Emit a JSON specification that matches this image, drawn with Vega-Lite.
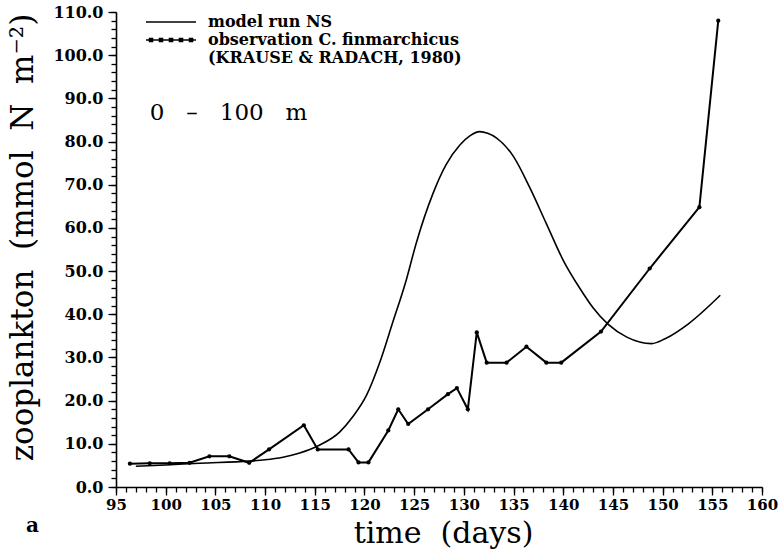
{
  "$schema": "https://vega.github.io/schema/vega-lite/v6.json",
  "width": 646,
  "height": 475,
  "autosize": {"type": "none"},
  "padding": {"left": 116, "top": 12, "right": 17, "bottom": 64},
  "background": "white",
  "config": {
    "view": {"stroke": null},
    "axis": {"grid": false, "domainColor": "black", "tickColor": "black", "labelColor": "black", "titleColor": "black", "domainWidth": 1.6, "tickWidth": 1.3}
  },
  "title": {"text": "a", "orient": "bottom", "anchor": "start", "frame": "group", "dx": -90, "dy": -32, "offset": 0, "font": "DejaVu Serif", "fontWeight": "bold", "fontSize": 20, "color": "black"},
  "data": {
    "values": [
      {"series": "model run NS", "day": 97.0, "value": 4.8},
      {"series": "model run NS", "day": 100.0, "value": 5.1},
      {"series": "model run NS", "day": 103.4, "value": 5.5},
      {"series": "model run NS", "day": 108.4, "value": 6.0},
      {"series": "model run NS", "day": 110.0, "value": 6.3},
      {"series": "model run NS", "day": 111.8, "value": 6.9},
      {"series": "model run NS", "day": 113.4, "value": 7.8},
      {"series": "model run NS", "day": 115.4, "value": 9.6},
      {"series": "model run NS", "day": 117.5, "value": 12.7},
      {"series": "model run NS", "day": 118.8, "value": 16.2},
      {"series": "model run NS", "day": 120.2, "value": 21.2},
      {"series": "model run NS", "day": 121.5, "value": 28.6},
      {"series": "model run NS", "day": 122.8, "value": 37.8},
      {"series": "model run NS", "day": 124.2, "value": 47.9},
      {"series": "model run NS", "day": 125.2, "value": 56.4},
      {"series": "model run NS", "day": 126.9, "value": 68.0},
      {"series": "model run NS", "day": 128.2, "value": 74.6},
      {"series": "model run NS", "day": 129.6, "value": 79.2},
      {"series": "model run NS", "day": 130.6, "value": 81.3},
      {"series": "model run NS", "day": 131.6, "value": 82.3},
      {"series": "model run NS", "day": 132.4, "value": 81.9},
      {"series": "model run NS", "day": 133.3, "value": 80.8},
      {"series": "model run NS", "day": 135.0, "value": 76.5},
      {"series": "model run NS", "day": 136.6, "value": 69.5},
      {"series": "model run NS", "day": 138.3, "value": 61.0},
      {"series": "model run NS", "day": 140.0, "value": 52.5},
      {"series": "model run NS", "day": 141.7, "value": 45.9},
      {"series": "model run NS", "day": 143.0, "value": 41.5},
      {"series": "model run NS", "day": 144.5, "value": 37.7},
      {"series": "model run NS", "day": 146.4, "value": 34.7},
      {"series": "model run NS", "day": 148.9, "value": 33.2},
      {"series": "model run NS", "day": 150.3, "value": 34.4},
      {"series": "model run NS", "day": 152.6, "value": 37.8},
      {"series": "model run NS", "day": 155.8, "value": 44.4},
      {"series": "observation C. finmarchicus", "day": 96.4, "value": 5.4},
      {"series": "observation C. finmarchicus", "day": 98.4, "value": 5.5},
      {"series": "observation C. finmarchicus", "day": 100.4, "value": 5.5},
      {"series": "observation C. finmarchicus", "day": 102.4, "value": 5.6},
      {"series": "observation C. finmarchicus", "day": 104.4, "value": 7.1},
      {"series": "observation C. finmarchicus", "day": 106.4, "value": 7.1},
      {"series": "observation C. finmarchicus", "day": 108.4, "value": 5.6},
      {"series": "observation C. finmarchicus", "day": 110.4, "value": 8.7},
      {"series": "observation C. finmarchicus", "day": 113.9, "value": 14.3},
      {"series": "observation C. finmarchicus", "day": 115.3, "value": 8.7},
      {"series": "observation C. finmarchicus", "day": 118.4, "value": 8.7},
      {"series": "observation C. finmarchicus", "day": 119.4, "value": 5.7},
      {"series": "observation C. finmarchicus", "day": 120.4, "value": 5.7},
      {"series": "observation C. finmarchicus", "day": 122.4, "value": 13.1},
      {"series": "observation C. finmarchicus", "day": 123.4, "value": 18.0},
      {"series": "observation C. finmarchicus", "day": 124.4, "value": 14.6},
      {"series": "observation C. finmarchicus", "day": 126.4, "value": 18.0},
      {"series": "observation C. finmarchicus", "day": 128.4, "value": 21.5},
      {"series": "observation C. finmarchicus", "day": 129.3, "value": 22.9},
      {"series": "observation C. finmarchicus", "day": 130.4, "value": 18.0},
      {"series": "observation C. finmarchicus", "day": 131.3, "value": 35.8},
      {"series": "observation C. finmarchicus", "day": 132.3, "value": 28.8},
      {"series": "observation C. finmarchicus", "day": 134.3, "value": 28.8},
      {"series": "observation C. finmarchicus", "day": 136.3, "value": 32.5},
      {"series": "observation C. finmarchicus", "day": 138.3, "value": 28.8},
      {"series": "observation C. finmarchicus", "day": 139.8, "value": 28.8},
      {"series": "observation C. finmarchicus", "day": 143.8, "value": 36.0},
      {"series": "observation C. finmarchicus", "day": 148.7, "value": 50.6},
      {"series": "observation C. finmarchicus", "day": 153.7, "value": 64.8},
      {"series": "observation C. finmarchicus", "day": 155.6, "value": 108.0}
    ]
  },
  "layer": [
    {
      "transform": [{"filter": "datum.series == 'model run NS'"}],
      "mark": {"type": "line", "interpolate": "monotone", "strokeWidth": 1.6},
      "encoding": {
        "x": {
          "field": "day", "type": "quantitative",
          "scale": {"domain": [95, 160], "nice": false, "zero": false},
          "axis": {
            "orient": "bottom",
            "values": [95, 100, 105, 110, 115, 120, 125, 130, 135, 140, 145, 150, 155, 160],
            "format": "d", "tickSize": 8, "labelPadding": 2, "labelFlush": false,
            "labelFont": "DejaVu Serif", "labelFontWeight": "bold", "labelFontSize": 15,
            "title": "time\u00a0\u00a0(days)", "titleFont": "DejaVu Serif", "titleFontWeight": "normal", "titleFontSize": 30,
            "titleX": 327, "titleY": 55, "titleBaseline": "alphabetic", "titleAlign": "center"
          }
        },
        "y": {
          "field": "value", "type": "quantitative",
          "scale": {"domain": [0, 110], "nice": false},
          "axis": {
            "orient": "left",
            "values": [0, 10, 20, 30, 40, 50, 60, 70, 80, 90, 100, 110],
            "format": ".1f", "tickSize": 8, "labelPadding": 5, "labelFlush": false,
            "labelFont": "DejaVu Serif", "labelFontWeight": "bold", "labelFontSize": 16,
            "title": "zooplankton\u00a0\u00a0(mmol\u00a0\u00a0N\u00a0\u00a0m⁻²)", "titleFont": "DejaVu Serif", "titleFontWeight": "normal", "titleFontSize": 31,
            "titleX": -84, "titleY": 225, "titleAngle": 270, "titleBaseline": "alphabetic", "titleAlign": "center"
          }
        },
        "color": {
          "field": "series", "type": "nominal",
          "scale": {"domain": ["model run NS", "observation C. finmarchicus"], "range": ["black", "black"]},
          "legend": {
            "orient": "none", "legendX": 47, "legendY": 2, "title": null, "direction": "vertical",
            "padding": 0, "rowPadding": 2, "labelOffset": 29, "labelLimit": 500,
            "labelFont": "DejaVu Serif", "labelFontWeight": "bold", "labelFontSize": 16, "labelColor": "black",
            "symbolSize": 100, "symbolStrokeWidth": 1.6, "symbolStrokeColor": "black",
            "labelExpr": "datum.label == 'observation C. finmarchicus' ? ['observation C. finmarchicus', '(KRAUSE & RADACH, 1980)'] : datum.label",
            "encode": {
              "symbols": {
                "update": {
                  "shape": {"signal": "datum.value == 'model run NS' ? 'M-5,0H5' : 'M-5,0H5M-4.3,-0.3h0.6v0.6h-0.6zM-2.3,-0.3h0.6v0.6h-0.6zM-0.3,-0.3h0.6v0.6h-0.6zM1.7,-0.3h0.6v0.6h-0.6zM3.7,-0.3h0.6v0.6h-0.6z'"},
                  "fill": {"value": "black"}
                }
              }
            }
          }
        }
      }
    },
    {
      "transform": [{"filter": "datum.series == 'observation C. finmarchicus'"}],
      "mark": {"type": "line", "interpolate": "linear", "strokeWidth": 2},
      "encoding": {
        "x": {"field": "day", "type": "quantitative", "axis": null},
        "y": {"field": "value", "type": "quantitative", "axis": null},
        "color": {"field": "series", "type": "nominal"}
      }
    },
    {
      "transform": [{"filter": "datum.series == 'observation C. finmarchicus'"}],
      "mark": {"type": "point", "filled": true, "shape": "circle", "size": 18, "color": "black", "opacity": 1},
      "encoding": {
        "x": {
          "field": "day", "type": "quantitative",
          "axis": {
            "orient": "bottom", "domain": false, "labels": false, "title": null, "tickSize": 5,
            "values": [95,96,97,98,99,100,101,102,103,104,105,106,107,108,109,110,111,112,113,114,115,116,117,118,119,120,121,122,123,124,125,126,127,128,129,130,131,132,133,134,135,136,137,138,139,140,141,142,143,144,145,146,147,148,149,150,151,152,153,154,155,156,157,158,159,160]
          }
        },
        "y": {
          "field": "value", "type": "quantitative",
          "axis": {
            "orient": "left", "domain": false, "labels": false, "title": null, "tickSize": 5,
            "values": [0,2,4,6,8,10,12,14,16,18,20,22,24,26,28,30,32,34,36,38,40,42,44,46,48,50,52,54,56,58,60,62,64,66,68,70,72,74,76,78,80,82,84,86,88,90,92,94,96,98,100,102,104,106,108,110]
          }
        }
      }
    },
    {
      "data": {"values": [{"label": "0\u00a0\u00a0\u00a0–\u00a0\u00a0\u00a0100\u00a0\u00a0\u00a0m"}]},
      "mark": {"type": "text", "align": "left", "baseline": "middle", "font": "DejaVu Serif", "fontSize": 23, "color": "black"},
      "encoding": {
        "text": {"field": "label", "type": "nominal"},
        "x": {"datum": 98.4, "type": "quantitative", "axis": null},
        "y": {"datum": 86.6, "type": "quantitative", "axis": null}
      }
    }
  ],
  "resolve": {"axis": {"x": "independent", "y": "independent"}}
}
